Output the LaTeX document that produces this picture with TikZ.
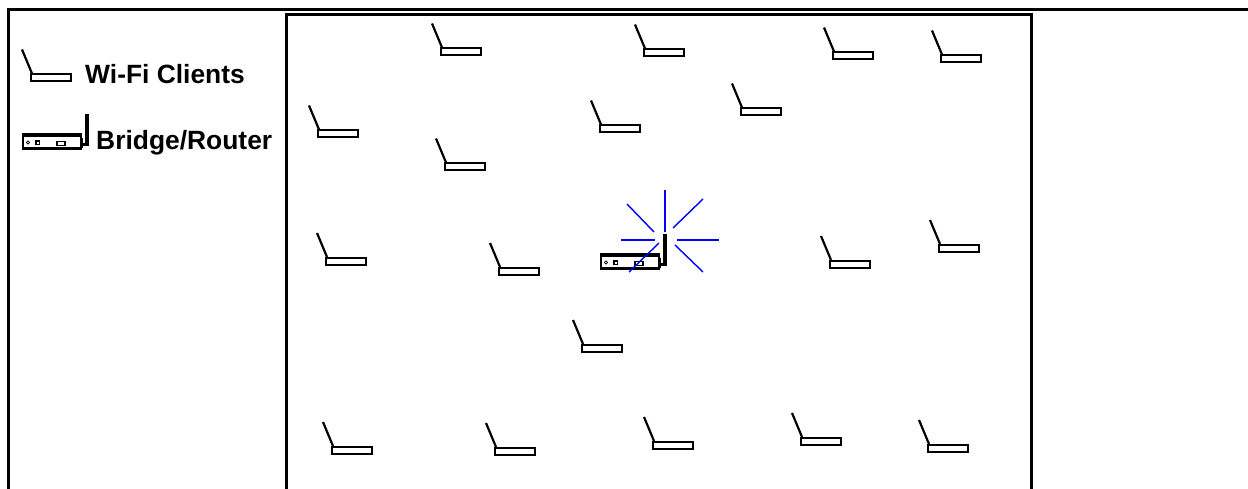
\documentclass[tikz,border=0pt]{standalone}
\usepackage{fontspec}
\setmainfont{Liberation Sans}
\usepackage{tikz}
\usetikzlibrary{positioning}

\begin{document}
\begin{tikzpicture}[
  x=1pt, y=-1pt,
  frame/.style={draw=black, line width=3pt},
  client/.style={draw=black, fill=white, line width=2pt, inner sep=0pt,
                 minimum width=40pt, minimum height=7pt, anchor=north west},
  antenna/.style={black, line width=2.2pt},
  legend/.style={font=\bfseries\fontsize{26.4pt}{28pt}\selectfont, anchor=base west, inner sep=0pt},
  ray/.style={blue, line width=1.4pt},
  router/.pic={
    \draw[line width=2.2pt, fill=white] (0,0) rectangle (58,14);
    \draw[line width=1.8pt] (0,2) -- (58,2);
    \draw[line width=2.2pt] (0,13.5) -- (58,13.5);
    \draw[line width=1.2pt] (59,14) -- (59,4);
    \draw[line width=0.8pt] (5,8) circle (1.6);
    \draw[line width=1.8pt] (13,6.5) rectangle (16.5,10);
    \draw[line width=1.8pt] (34,7) rectangle (42,11);
    \fill (62,-20) rectangle (66,12);
    \fill (59,9) rectangle (64,12);
  },
]
\useasboundingbox (0,0) rectangle (1248,489);
% Outer frame
\draw[frame] (8.5,489) -- (8.5,9.5) -- (1248,9.5);
% Inner frame
\draw[frame] (286.5,489) -- (286.5,14.5) -- (1031.5,14.5) -- (1031.5,489);
% Clients in the field, legend one is last
\foreach \n/\x/\y in {
  1/439.5/47.5, 2/642.5/48.5, 3/831.5/51.5, 4/939.5/54.5,
  5/316.5/129.5, 6/598.5/124.5, 7/739.5/107.5, 8/443.5/162.5,
  9/324.5/257, 10/497.5/267, 11/828.5/260, 12/937.5/244,
  13/580.5/344, 14/330.5/446, 15/493.5/447, 16/651.5/441,
  17/799.5/437, 18/926.5/444, 19/29.5/73.5}
{
  \node[client] (client\n) at (\x,\y) {};
  \draw[antenna] (client\n.north west) ++(2.5,0) -- ++(-10,-24);
}
% Legend
\node[legend] (wifilabel) at (85,84) {Wi-Fi Clients};
\pic (legendrouter) at (23,134.5) {router};
\node[legend] (routerlabel) at (96,150) {Bridge/Router};
% Router and its rays
\pic (mainrouter) at (601,254.5) {router};
\coordinate (burst) at (665,240);
\foreach \ax/\ay/\bx/\by in {
  0/-8/0/-50, 8/-12/38/-41, 12/0/54/0, 10/5/38/32,
  -6/3/-36/32, -10/0/-44/0, -11/-8/-38/-36}
{
  \draw[ray] (burst) ++(\ax,\ay) -- ++(\bx-\ax,\by-\ay);
}
\end{tikzpicture}
\end{document}
